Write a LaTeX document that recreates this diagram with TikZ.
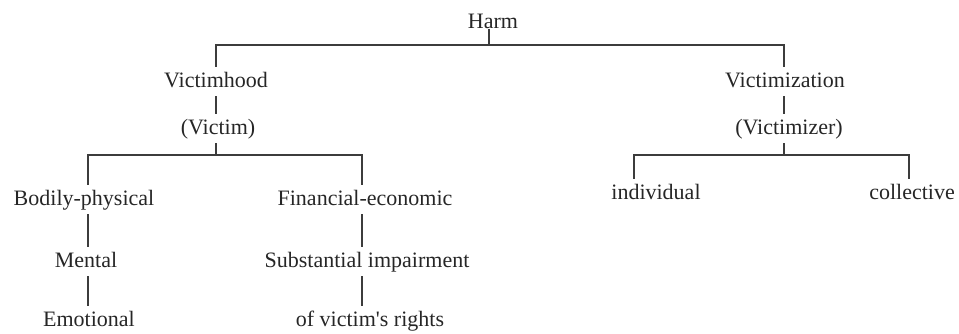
\documentclass[tikz,border=0pt]{standalone}
\usepackage{fontspec}
\setmainfont[Ligatures=TeXOff]{Liberation Serif}
\definecolor{ink}{HTML}{262626}
\definecolor{rule}{HTML}{3C3C3C}
\begin{document}
\begin{tikzpicture}[x=1pt,y=-1pt,
  lbl/.style={anchor=base,inner xsep=0pt,inner ysep=3pt,text height=17pt,text depth=6pt,
    font=\fontsize{22}{26}\selectfont,text=ink},
  conn/.style={draw=rule,line width=1.3pt}]
\useasboundingbox (0,0) rectangle (959,333);
% nodes
\node[lbl,text depth=0pt,inner ysep=1pt] (harm) at (493,28) {Harm};
\node[lbl] (vh) at (216,87) {Victimhood};
\node[lbl] (vm) at (218,134) {(Victim)};
\node[lbl] (vz) at (785,87) {Victimization};
\node[lbl] (vr) at (789,134) {(Victimizer)};
\node[lbl] (bp) at (84,205) {Bodily-physical};
\node[lbl] (me) at (86,267) {Mental};
\node[lbl] (em) at (89,326) {Emotional};
\node[lbl] (fe) at (365,205) {Financial-economic};
\node[lbl] (si) at (367,267) {Substantial impairment};
\node[lbl] (vrr) at (370,326) {of victim's rights};
\node[lbl] (ind) at (656,199) {individual};
\node[lbl] (col) at (912,199) {collective};
% branch coordinates
\coordinate (hb) at (489,45);
\coordinate (hL) at (216,45);
\coordinate (hR) at (784,45);
\coordinate (vb) at (216,155);
\coordinate (vL) at (88,155);
\coordinate (vRt) at (362,155);
\coordinate (zb) at (784,155);
\coordinate (zL) at (634,155);
\coordinate (zR) at (909,155);
% connectors
\draw[conn] (hb |- harm.south) -- (hb);
\draw[conn] (hL |- vh.north) -- (hL) -- (hR) -- (hR |- vz.north);
\draw[conn] (hL |- vh.south) -- (hL |- vm.north);
\draw[conn] (vb |- vm.south) -- (vb);
\draw[conn] (vL |- bp.north) -- (vL) -- (vRt) -- (vRt |- fe.north);
\draw[conn] (vL |- bp.south) -- (vL |- me.north);
\draw[conn] (vL |- me.south) -- (vL |- em.north);
\draw[conn] (vRt |- fe.south) -- (vRt |- si.north);
\draw[conn] (vRt |- si.south) -- (vRt |- vrr.north);
\draw[conn] (hR |- vz.south) -- (hR |- vr.north);
\draw[conn] (zb |- vr.south) -- (zb);
\draw[conn] (zL |- ind.north) -- (zL) -- (zR) -- (zR |- col.north);
\end{tikzpicture}
\end{document}
